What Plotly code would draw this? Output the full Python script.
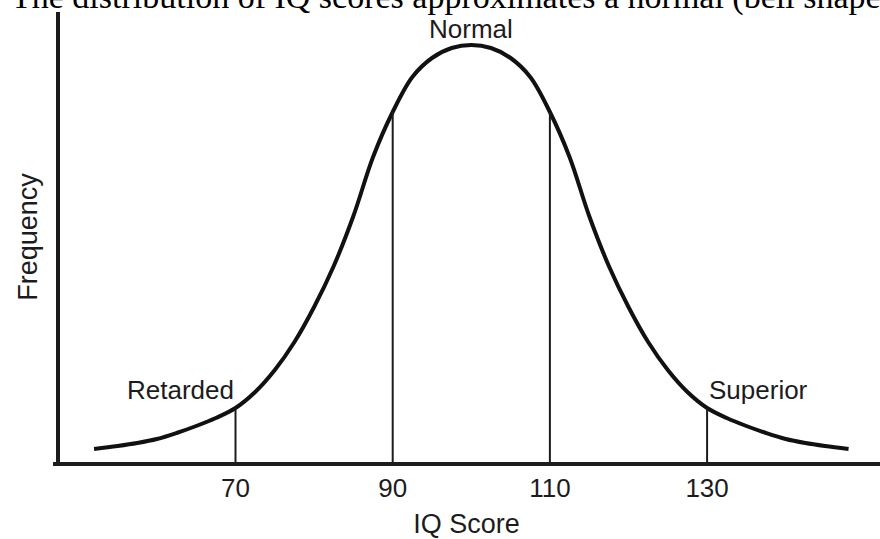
import plotly.graph_objects as go

# IQ scores sampled along the bell curve and the curve's relative frequency
iq = [52, 55, 57.5, 60, 62.5, 65, 67.5, 70, 72.5, 75, 77.5, 80, 82.5, 85, 87.5,
      90, 92.5, 95, 97.5, 100, 102.5, 105, 107.5, 110, 112.5, 115, 117.5, 120,
      122.5, 125, 127.5, 130, 132.5, 135, 137.5, 140, 142.5, 145, 148]
freq = [13, 16, 19, 23, 29, 36, 44, 54, 70, 92, 120, 155, 196, 246, 305,
        350, 385, 404, 414, 417, 414, 404, 385, 350, 305, 246, 196, 155,
        120, 92, 70, 54, 44, 36, 29, 23, 19, 16, 13]

# Category boundaries marked under the curve
cutoffs = [70, 90, 110, 130]
tick_labels = ["70", "90", "110", "130"]

# Region names and where they sit
region_names = ["Retarded", "Normal", "Superior"]
region_x = [70, 100, 130]
region_y = [72, 433, 72]
region_anchor = ["right", "center", "left"]

title_text = "The distribution of IQ scores approximates a normal (bell shaped"

ink = "#1c1c1c"
sans = "Liberation Sans, Arial, sans-serif"

fig = go.Figure()

fig.add_trace(go.Scatter(
    x=iq, y=freq, mode="lines",
    line=dict(color="#111111", width=4, shape="spline", smoothing=1.0),
    hoverinfo="skip", showlegend=False,
))

height_at = dict(zip(iq, freq))
for c in cutoffs:
    fig.add_trace(go.Scatter(
        x=[c, c], y=[0, height_at[c]], mode="lines",
        line=dict(color=ink, width=2),
        hoverinfo="skip", showlegend=False,
    ))

for name, x, y, anc in zip(region_names, region_x, region_y, region_anchor):
    fig.add_annotation(
        x=x, y=y, xref="x", yref="y", text=name, showarrow=False,
        xanchor=anc, yanchor="middle",
        font=dict(family=sans, size=26, color=ink),
    )

fig.add_annotation(
    x=-0.053, y=1.034, xref="paper", yref="paper", text=title_text,
    showarrow=False, xanchor="left", yanchor="middle",
    font=dict(family="Liberation Serif, Times New Roman, serif", size=34,
              color="#000000"),
)

fig.update_layout(
    width=880, height=539,
    margin=dict(l=53, r=0, t=12, b=77),
    paper_bgcolor="white", plot_bgcolor="white",
    xaxis=dict(
        range=[46.78, 152.0], domain=[0, 1], automargin=False,
        showgrid=False, zeroline=False,
        showline=True, linewidth=4, linecolor=ink,
        tickmode="array", tickvals=cutoffs, ticktext=tick_labels,
        ticks="", ticklabelstandoff=0,
        tickfont=dict(family=sans, size=26, color=ink),
        title=dict(text="IQ Score", standoff=26,
                   font=dict(family=sans, size=27, color=ink)),
    ),
    yaxis=dict(
        range=[0, 450], anchor="free", position=5 / 827, automargin=False,
        showgrid=False, zeroline=False,
        showline=True, linewidth=4, linecolor=ink,
        showticklabels=False, ticks="",
        title=dict(text="Frequency", standoff=10,
                   font=dict(family=sans, size=27, color=ink)),
    ),
)

fig.write_html("out.html")
